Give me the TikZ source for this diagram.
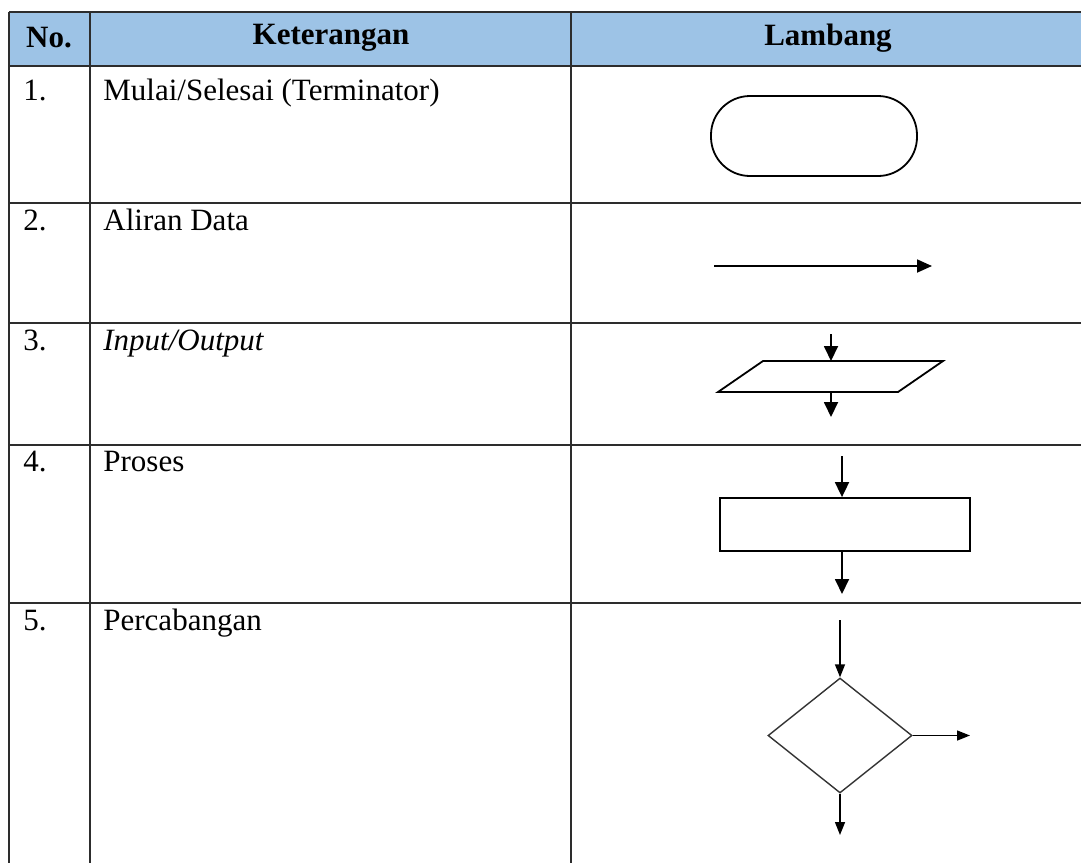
\documentclass[tikz,border=0pt]{standalone}
\usepackage{fontspec}
\setmainfont{Liberation Serif}
\usetikzlibrary{arrows.meta,shapes.geometric}
\definecolor{headblue}{RGB}{157,195,230}
\definecolor{gridgray}{RGB}{45,45,45}
\tikzset{
	grid/.style={draw=gridgray, line width=0.8pt},
	teks/.style={anchor=base west, inner sep=0pt, font=\fontsize{15.5}{18}\selectfont},
	judul/.style={inner sep=0pt, font=\bfseries\fontsize{15.5}{18}\selectfont},
	simbol/.style={draw=black, line width=0.9pt},
	panah/.style={-{Triangle[length=7.5pt,width=7pt]}, line width=0.9pt},
	panahkecil/.style={-{Triangle[length=6.5pt,width=5pt]}, line width=0.7pt}
}

\begin{document}
\begin{tikzpicture}[x=0.5pt, y=-0.5pt]
						\useasboundingbox (0,0) rectangle (1081,863);
						
						% header
						\fill[headblue] (9,12) rectangle (1081,66);
						\node[judul] (hno) at (49,38) {No.};
						\node[judul] (hket) at (331,38) {Keterangan};
						\node[judul] (hlam) at (828,38) {Lambang};
						
						% garis tabel
						\draw[grid, line width=1.2pt] (9,12) -- (1081,12);
						\draw[grid] (9,66) -- (1081,66);
						\draw[grid] (9,203) -- (1081,203);
						\draw[grid] (9,323) -- (1081,323);
						\draw[grid] (9,445) -- (1081,445);
						\draw[grid] (9,603) -- (1081,603);
						\draw[grid, line width=1pt] (9,12) -- (9,863);
						\draw[grid] (90,12) -- (90,863);
						\draw[grid] (571,12) -- (571,863);
						
						% keterangan
						\node[teks] (no1) at (23,100) {1.};
						\node[teks] (ket1) at (103,100) {Mulai/Selesai (Terminator)};
						\node[teks] (no2) at (23,230) {2.};
						\node[teks] (ket2) at (103,230) {Aliran Data};
						\node[teks] (no3) at (23,350) {3.};
						\node[teks] (ket3) at (103,350) {\itshape Input/Output};
						\node[teks] (no4) at (23,471) {4.};
						\node[teks] (ket4) at (103,471) {Proses};
						\node[teks] (no5) at (23,630) {5.};
						\node[teks] (ket5) at (103,630) {Percabangan};
						
						% 1. terminator
						\node[simbol, rectangle, rounded corners=19.5pt, minimum width=103pt, minimum height=40pt, inner sep=0pt] (term) at (814,136) {};
						
						% 2. aliran data
						\coordinate (alirA) at (714,266);
						\coordinate (alirB) at (932,266);
						\draw[panah, -{Triangle[length=7.5pt,width=6.5pt]}] (alirA) -- (alirB);
						
						% 3. input/output
						\coordinate (ioBL) at (718,392);
						\coordinate (ioTL) at (763,361);
						\coordinate (ioTR) at (943,361);
						\coordinate (ioBR) at (898,392);
						\draw[simbol] (ioBL) -- (ioTL) -- (ioTR) -- (ioBR) -- cycle;
						\coordinate (ioatas) at (831,361);
						\coordinate (iobawah) at (831,392);
						\coordinate (ioin) at (831,334);
						\coordinate (ioout) at (831,417);
						\draw[panah] (ioin) -- (ioatas);
						\draw[panah] (iobawah) -- (ioout);
						
						% 4. proses
						\node[simbol, rectangle, minimum width=125pt, minimum height=26.5pt, inner sep=0pt] (proses) at (845,524.5) {};
						\coordinate (prin) at (842,456);
						\coordinate (prout) at (842,594);
						\draw[panah] (prin) -- (prin |- proses.north);
						\draw[panah] (prout |- proses.south) -- (prout);
						
						% 5. percabangan
						\node[simbol, diamond, minimum width=72pt, minimum height=57.5pt, inner sep=0pt, line width=0.7pt, draw=black!80] (cabang) at (840,735.5) {};
						\coordinate (cbin) at (840,620);
						\coordinate (cbkanan) at (970,735.5);
						\coordinate (cbbawah) at (840,835);
						\draw[panahkecil] (cbin) -- (cabang.north);
						\draw[panahkecil] (cabang.east) -- (cbkanan);
						\draw[panahkecil] (cabang.south) -- (cbbawah);
					\end{tikzpicture}
\end{document}
